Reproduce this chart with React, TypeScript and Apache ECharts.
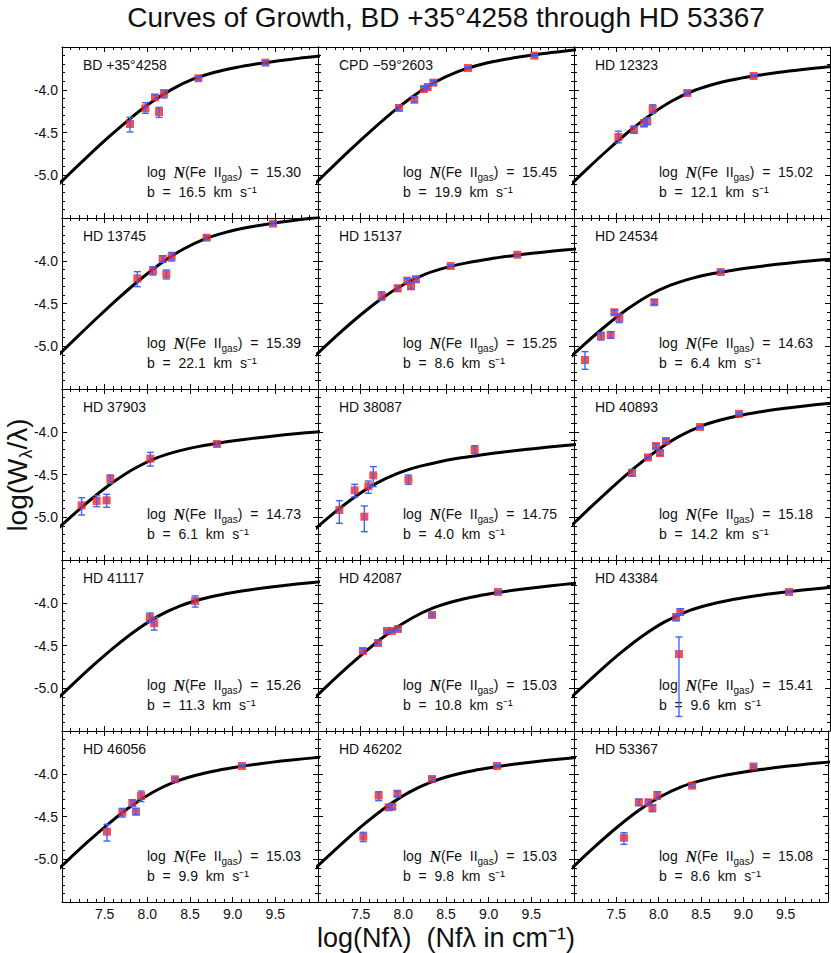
import { useEffect, useRef } from 'react';
import * as echarts from 'echarts';

// ---------- data ----------
const starNames = [
  'BD +35°4258', 'CPD −59°2603', 'HD 12323',
  'HD 13745', 'HD 15137', 'HD 24534',
  'HD 37903', 'HD 38087', 'HD 40893',
  'HD 41117', 'HD 42087', 'HD 43384',
  'HD 46056', 'HD 46202', 'HD 53367',
];
const logNFeII = [15.30, 15.45, 15.02, 15.39, 15.25, 14.63, 14.73, 14.75, 15.18, 15.26, 15.03, 15.41, 15.03, 15.03, 15.08];
const bDoppler = [16.5, 19.9, 12.1, 22.1, 8.6, 6.4, 6.1, 4.0, 14.2, 11.3, 10.8, 9.6, 9.9, 9.8, 8.6];
const xTickLabels = [7.5, 8.0, 8.5, 9.0, 9.5];
const yTickLabels = [-4.0, -4.5, -5.0];

// curve of growth lines: [log(Nf lambda), log(W/lambda)]
const cogBD35 = [[6.792,-5.269],[7.042,-5.026],[7.292,-4.788],[7.542,-4.558],[7.792,-4.343],[8.042,-4.150],[8.292,-3.992],[8.542,-3.874],[8.792,-3.795],[9.042,-3.739],[9.292,-3.696],[9.542,-3.661],[9.792,-3.630],[10.042,-3.604],[10.292,-3.581]];
const cogCPD59 = [[6.624,-5.434],[6.874,-5.188],[7.124,-4.945],[7.374,-4.706],[7.624,-4.477],[7.874,-4.261],[8.124,-4.069],[8.374,-3.910],[8.624,-3.793],[8.874,-3.713],[9.124,-3.658],[9.374,-3.615],[9.624,-3.579],[9.874,-3.549],[10.124,-3.523],[10.374,-3.499]];
const cogHD12323 = [[6.658,-5.404],[6.908,-5.161],[7.158,-4.922],[7.408,-4.693],[7.658,-4.477],[7.908,-4.285],[8.158,-4.126],[8.408,-4.009],[8.658,-3.929],[8.908,-3.874],[9.158,-3.831],[9.408,-3.795],[9.658,-3.765],[9.908,-3.739],[10.158,-3.715],[10.408,-3.694]];
const cogHD13745 = [[6.669,-5.389],[6.919,-5.142],[7.169,-4.899],[7.419,-4.661],[7.669,-4.431],[7.919,-4.216],[8.169,-4.023],[8.419,-3.865],[8.669,-3.747],[8.919,-3.668],[9.169,-3.612],[9.419,-3.569],[9.669,-3.534],[9.919,-3.504],[10.169,-3.477],[10.419,-3.454]];
const cogHD15137 = [[6.759,-5.309],[7.009,-5.071],[7.259,-4.841],[7.509,-4.626],[7.759,-4.433],[8.009,-4.275],[8.259,-4.157],[8.509,-4.078],[8.759,-4.022],[9.009,-3.979],[9.259,-3.944],[9.509,-3.913],[9.759,-3.887],[10.009,-3.864],[10.259,-3.843]];
const cogHD24534 = [[6.631,-5.437],[6.881,-5.199],[7.131,-4.969],[7.381,-4.754],[7.631,-4.562],[7.881,-4.403],[8.131,-4.286],[8.381,-4.206],[8.631,-4.150],[8.881,-4.107],[9.131,-4.072],[9.381,-4.042],[9.631,-4.015],[9.881,-3.992],[10.131,-3.971],[10.381,-3.952]];
const cogHD37903 = [[6.610,-5.458],[6.860,-5.220],[7.110,-4.990],[7.360,-4.775],[7.610,-4.583],[7.860,-4.424],[8.110,-4.306],[8.360,-4.227],[8.610,-4.171],[8.860,-4.128],[9.110,-4.093],[9.360,-4.063],[9.610,-4.036],[9.860,-4.013],[10.110,-3.992],[10.360,-3.973]];
const cogHD38087 = [[6.677,-5.403],[6.927,-5.173],[7.177,-4.958],[7.427,-4.766],[7.677,-4.607],[7.927,-4.490],[8.177,-4.408],[8.427,-4.350],[8.677,-4.305],[8.927,-4.268],[9.177,-4.236],[9.427,-4.208],[9.677,-4.182],[9.927,-4.158],[10.177,-4.136],[10.427,-4.116]];
const cogHD40893 = [[6.727,-5.335],[6.977,-5.091],[7.227,-4.853],[7.477,-4.623],[7.727,-4.408],[7.977,-4.216],[8.227,-4.057],[8.477,-3.939],[8.727,-3.860],[8.977,-3.804],[9.227,-3.761],[9.477,-3.726],[9.727,-3.696],[9.977,-3.669],[10.227,-3.646]];
const cogHD41117 = [[6.628,-5.434],[6.878,-5.190],[7.128,-4.952],[7.378,-4.722],[7.628,-4.507],[7.878,-4.315],[8.128,-4.156],[8.378,-4.039],[8.628,-3.959],[8.878,-3.903],[9.128,-3.860],[9.378,-3.825],[9.628,-3.795],[9.878,-3.769],[10.128,-3.745],[10.378,-3.724]];
const cogHD42087 = [[6.608,-5.453],[6.858,-5.210],[7.108,-4.972],[7.358,-4.742],[7.608,-4.527],[7.858,-4.334],[8.108,-4.176],[8.358,-4.058],[8.608,-3.979],[8.858,-3.923],[9.108,-3.880],[9.358,-3.845],[9.608,-3.815],[9.858,-3.788],[10.108,-3.765],[10.358,-3.744]];
const cogHD43384 = [[6.557,-5.505],[6.807,-5.261],[7.057,-5.023],[7.307,-4.793],[7.557,-4.578],[7.807,-4.386],[8.057,-4.227],[8.307,-4.109],[8.557,-4.030],[8.807,-3.974],[9.057,-3.931],[9.307,-3.896],[9.557,-3.866],[9.807,-3.839],[10.057,-3.816],[10.307,-3.795]];
const cogHD46056 = [[6.570,-5.491],[6.820,-5.248],[7.070,-5.010],[7.320,-4.780],[7.570,-4.565],[7.820,-4.372],[8.070,-4.214],[8.320,-4.096],[8.570,-4.017],[8.820,-3.961],[9.070,-3.918],[9.320,-3.883],[9.570,-3.852],[9.820,-3.826],[10.070,-3.803],[10.320,-3.781]];
const cogHD46202 = [[6.566,-5.496],[6.816,-5.252],[7.066,-5.014],[7.316,-4.784],[7.566,-4.569],[7.816,-4.377],[8.066,-4.218],[8.316,-4.101],[8.566,-4.021],[8.816,-3.965],[9.066,-3.922],[9.316,-3.887],[9.566,-3.857],[9.816,-3.830],[10.066,-3.807],[10.316,-3.786]];
const cogHD53367 = [[6.759,-5.309],[7.009,-5.071],[7.259,-4.841],[7.509,-4.626],[7.759,-4.433],[8.009,-4.275],[8.259,-4.157],[8.509,-4.078],[8.759,-4.022],[9.009,-3.979],[9.259,-3.944],[9.509,-3.913],[9.759,-3.887],[10.009,-3.864],[10.259,-3.843]];

// measured lines: [log(Nf lambda), log(W/lambda), lower error end, upper error end]
const ptsBD35 = [[7.797,-4.401,-4.494,-4.323],[7.977,-4.217,-4.276,-4.151],[8.090,-4.089,-4.112,-4.061],[8.137,-4.260,-4.323,-4.206],[8.195,-4.042,-4.096,-4.003],[8.598,-3.866,-3.886,-3.847],[9.383,-3.683,-3.707,-3.660]];
const ptsCPD59 = [[7.949,-4.213,-4.243,-4.183],[8.129,-4.116,-4.149,-4.083],[8.242,-3.991,-4.018,-3.964],[8.285,-3.968,-3.993,-3.943],[8.352,-3.917,-3.942,-3.892],[8.758,-3.746,-3.761,-3.731],[9.535,-3.601,-3.616,-3.586]];
const ptsHD12323 = [[7.520,-4.553,-4.621,-4.485],[7.703,-4.467,-4.510,-4.424],[7.820,-4.393,-4.432,-4.354],[7.859,-4.369,-4.408,-4.330],[7.922,-4.225,-4.274,-4.176],[8.328,-4.038,-4.058,-4.018],[9.105,-3.839,-3.854,-3.824]];
const ptsHD13745 = [[7.883,-4.206,-4.303,-4.128],[8.066,-4.116,-4.167,-4.069],[8.180,-3.980,-4.019,-3.941],[8.223,-4.159,-4.213,-4.108],[8.285,-3.952,-4.003,-3.902],[8.695,-3.730,-3.757,-3.707],[9.473,-3.566,-3.581,-3.551]];
const ptsHD15137 = [[7.746,-4.412,-4.461,-4.363],[7.934,-4.323,-4.358,-4.288],[8.047,-4.233,-4.260,-4.206],[8.090,-4.299,-4.334,-4.264],[8.148,-4.217,-4.250,-4.184],[8.555,-4.061,-4.076,-4.046],[9.336,-3.929,-3.944,-3.914]];
const ptsHD24534 = [[7.129,-5.161,-5.270,-5.063],[7.316,-4.880,-4.927,-4.837],[7.430,-4.868,-4.907,-4.829],[7.473,-4.603,-4.631,-4.576],[7.531,-4.670,-4.724,-4.623],[7.941,-4.486,-4.514,-4.459],[8.719,-4.132,-4.150,-4.114]];
const ptsHD37903 = [[7.230,-4.861,-4.974,-4.771],[7.406,-4.810,-4.876,-4.748],[7.523,-4.802,-4.884,-4.732],[7.566,-4.549,-4.603,-4.506],[8.035,-4.315,-4.401,-4.241],[8.816,-4.143,-4.167,-4.116]];
const ptsHD38087 = [[7.250,-4.915,-5.071,-4.806],[7.430,-4.685,-4.763,-4.615],[7.543,-4.993,-5.169,-4.868],[7.590,-4.638,-4.720,-4.576],[7.648,-4.510,-4.642,-4.408],[8.059,-4.560,-4.615,-4.506],[8.836,-4.210,-4.256,-4.163]];
const ptsHD40893 = [[7.680,-4.482,-4.520,-4.440],[7.867,-4.300,-4.320,-4.280],[7.961,-4.167,-4.190,-4.145],[8.008,-4.249,-4.275,-4.225],[8.078,-4.108,-4.130,-4.085],[8.477,-3.944,-3.960,-3.930],[8.934,-3.790,-3.805,-3.775]];
const ptsHD41117 = [[8.030,-4.170,-4.230,-4.120],[8.080,-4.240,-4.320,-4.170],[8.560,-3.980,-4.050,-3.920]];
const ptsHD42087 = [[7.527,-4.564,-4.590,-4.535],[7.703,-4.471,-4.490,-4.450],[7.809,-4.330,-4.345,-4.315],[7.867,-4.330,-4.345,-4.315],[7.937,-4.307,-4.325,-4.290],[8.336,-4.143,-4.160,-4.125],[9.109,-3.874,-3.885,-3.863]];
const ptsHD43384 = [[8.195,-4.171,-4.210,-4.130],[8.230,-4.600,-5.330,-4.400],[8.245,-4.110,-4.140,-4.070],[9.520,-3.874,-3.885,-3.863]];
const ptsHD46056 = [[7.527,-4.677,-4.787,-4.592],[7.707,-4.451,-4.506,-4.405],[7.824,-4.342,-4.381,-4.307],[7.867,-4.443,-4.479,-4.405],[7.926,-4.260,-4.326,-4.202],[8.324,-4.065,-4.085,-4.045],[9.109,-3.909,-3.924,-3.894]];
const ptsHD46202 = [[7.531,-4.736,-4.794,-4.685],[7.711,-4.256,-4.315,-4.210],[7.828,-4.393,-4.424,-4.366],[7.871,-4.385,-4.415,-4.355],[7.930,-4.233,-4.268,-4.202],[8.336,-4.061,-4.080,-4.042],[9.098,-3.909,-3.924,-3.894]];
const ptsHD53367 = [[7.590,-4.748,-4.826,-4.689],[7.766,-4.334,-4.373,-4.299],[7.879,-4.334,-4.364,-4.304],[7.926,-4.400,-4.444,-4.366],[7.984,-4.248,-4.299,-4.210],[8.395,-4.139,-4.159,-4.119],[9.120,-3.915,-3.930,-3.900]];

const cogCurves = [cogBD35, cogCPD59, cogHD12323, cogHD13745, cogHD15137, cogHD24534, cogHD37903, cogHD38087, cogHD40893, cogHD41117, cogHD42087, cogHD43384, cogHD46056, cogHD46202, cogHD53367];
const pointSets = [ptsBD35, ptsCPD59, ptsHD12323, ptsHD13745, ptsHD15137, ptsHD24534, ptsHD37903, ptsHD38087, ptsHD40893, ptsHD41117, ptsHD42087, ptsHD43384, ptsHD46056, ptsHD46202, ptsHD53367];

// ---------- layout ----------
const CHART_W = 831;
const CHART_H = 953;
const PLOT_LEFT = 62;
const PLOT_TOP = 47;
const PANEL_W = 256;
const PANEL_H = 171;
const FONT = '"Liberation Sans", Arial, sans-serif';
const NB = '\u00a0\u00a0';

export default function App() {
  const ref = useRef<HTMLDivElement>(null);

  useEffect(() => {
    if (!ref.current) return;
    const chart = echarts.init(ref.current, null, { renderer: 'svg' });

    const grids: any[] = [];
    const xAxes: any[] = [];
    const yAxes: any[] = [];
    const series: any[] = [];
    const graphics: any[] = [];

    const tickLine = { color: '#000', width: 1 };

    starNames.forEach((name, i) => {
      const r = Math.floor(i / 3);
      const c = i % 3;
      const left = PLOT_LEFT + PANEL_W * c;
      const top = PLOT_TOP + PANEL_H * r;
      grids.push({ left, top, width: PANEL_W, height: PANEL_H, containLabel: false });

      const xBase = {
        type: 'value', gridIndex: i, min: 7, max: 10, interval: 0.5,
        axisLine: { show: true, onZero: false, lineStyle: tickLine },
        axisTick: { show: true, inside: true, length: 5, lineStyle: tickLine },
        minorTick: { show: true, splitNumber: 5, length: 3, lineStyle: tickLine },
        splitLine: { show: false },
        minorSplitLine: { show: false },
      };
      xAxes.push({
        ...xBase, position: 'bottom',
        axisLabel: {
          show: r === 4, margin: 5, fontSize: 14, color: '#111', fontFamily: FONT,
          formatter: (v: number) => (xTickLabels.some((t) => Math.abs(t - v) < 1e-6) ? v.toFixed(1) : ''),
        },
      });
      xAxes.push({ ...xBase, position: 'top', axisLabel: { show: false } });

      const yBase = {
        type: 'value', gridIndex: i, min: -5.5, max: -3.5, interval: 0.5,
        axisLine: { show: true, onZero: false, lineStyle: tickLine },
        axisTick: { show: true, inside: true, length: 5, lineStyle: tickLine },
        minorTick: { show: true, splitNumber: 5, length: 3, lineStyle: tickLine },
        splitLine: { show: false },
        minorSplitLine: { show: false },
      };
      yAxes.push({
        ...yBase, position: 'left',
        axisLabel: {
          show: c === 0, margin: 4, fontSize: 14, color: '#111', fontFamily: FONT,
          formatter: (v: number) => (yTickLabels.some((t) => Math.abs(t - v) < 1e-6) ? v.toFixed(1) : ''),
        },
      });
      yAxes.push({ ...yBase, position: 'right', axisLabel: { show: false } });

      series.push({
        type: 'line', xAxisIndex: 2 * i, yAxisIndex: 2 * i,
        data: cogCurves[i], symbol: 'none', showSymbol: false, smooth: 0.3,
        lineStyle: { color: '#000', width: 3 }, clip: true, z: 2, silent: true,
      });
      series.push({
        type: 'scatter', xAxisIndex: 2 * i, yAxisIndex: 2 * i,
        data: pointSets[i].map((p) => [p[0], p[1]]),
        symbol: 'rect', symbolSize: 8, itemStyle: { color: '#ff1f1f' }, z: 3, silent: true,
      });
      series.push({
        type: 'custom', xAxisIndex: 2 * i, yAxisIndex: 2 * i,
        data: pointSets[i].map((p) => [p[0], p[2], p[3]]),
        encode: { x: 0, y: [1, 2] }, z: 4, silent: true,
        renderItem: (_params: any, api: any) => {
          const lo = api.coord([api.value(0), api.value(1)]);
          const hi = api.coord([api.value(0), api.value(2)]);
          const cap = 3.5;
          const st = { stroke: '#3c64ff', lineWidth: 1.4 };
          return {
            type: 'group',
            children: [
              { type: 'line', shape: { x1: lo[0], y1: lo[1], x2: hi[0], y2: hi[1] }, style: st },
              { type: 'line', shape: { x1: lo[0] - cap, y1: lo[1], x2: lo[0] + cap, y2: lo[1] }, style: st },
              { type: 'line', shape: { x1: hi[0] - cap, y1: hi[1], x2: hi[0] + cap, y2: hi[1] }, style: st },
            ],
          };
        },
      });

      graphics.push({
        type: 'text', x: left + 21, y: top + 18, silent: true,
        style: { text: name, fontSize: 14, fontFamily: FONT, fill: '#111', align: 'left', verticalAlign: 'middle', textAlign: 'left', textVerticalAlign: 'middle' },
      });
      graphics.push({
        type: 'text', x: left + 85, y: top + 125, silent: true,
        style: {
          text: `log${NB}{N|N}(Fe${NB}II{sub|gas})${NB}=${NB}${logNFeII[i].toFixed(2)}`,
          fontSize: 14, fontFamily: FONT, fill: '#111', lineHeight: 20,
          align: 'left', verticalAlign: 'middle', textAlign: 'left', textVerticalAlign: 'middle',
          rich: {
            N: { fontFamily: '"Liberation Serif", "DejaVu Serif", serif', fontStyle: 'italic', fontWeight: 'bold', fontSize: 16, fill: '#111', lineHeight: 20 },
            sub: { fontSize: 10, fontFamily: FONT, fill: '#111', lineHeight: 10, verticalAlign: 'bottom' },
          },
        },
      });
      graphics.push({
        type: 'text', x: left + 85, y: top + 145, silent: true,
        style: {
          text: `b${NB}=${NB}${bDoppler[i].toFixed(1)}${NB}km${NB}s⁻¹`,
          fontSize: 14, fontFamily: FONT, fill: '#111',
          align: 'left', verticalAlign: 'middle', textAlign: 'left', textVerticalAlign: 'middle',
        },
      });
    });

    graphics.push({
      type: 'text', x: 446, y: 17, silent: true,
      style: {
        text: `Curves of Growth, ${starNames[0]} through ${starNames[starNames.length - 1]}`,
        fontSize: 28, fontFamily: FONT, fill: '#111', align: 'center', verticalAlign: 'middle', textAlign: 'center', textVerticalAlign: 'middle',
      },
    });
    graphics.push({
      type: 'text', x: 446, y: 938, silent: true,
      style: {
        text: 'log(Nfλ)  (Nfλ in cm⁻¹)',
        fontSize: 27, fontFamily: FONT, fill: '#111', align: 'center', verticalAlign: 'middle', textAlign: 'center', textVerticalAlign: 'middle',
      },
    });
    graphics.push({
      type: 'text', x: 17, y: 475, rotation: Math.PI / 2, silent: true,
      style: {
        text: 'log(W{sub|λ}/λ)',
        fontSize: 28, fontFamily: FONT, fill: '#111', lineHeight: 36,
        align: 'center', verticalAlign: 'middle', textAlign: 'center', textVerticalAlign: 'middle',
        rich: { sub: { fontSize: 18, fontFamily: FONT, fill: '#111', lineHeight: 18, verticalAlign: 'bottom' } },
      },
    });

    chart.setOption({
      animation: false,
      backgroundColor: '#fff',
      grid: grids,
      xAxis: xAxes,
      yAxis: yAxes,
      series,
      graphic: { elements: graphics },
    });

    return () => chart.dispose();
  }, []);

  return (
    <div
      ref={ref}
      style={{ position: 'fixed', left: 0, top: 0, width: CHART_W, height: CHART_H, background: '#fff' }}
    />
  );
}
